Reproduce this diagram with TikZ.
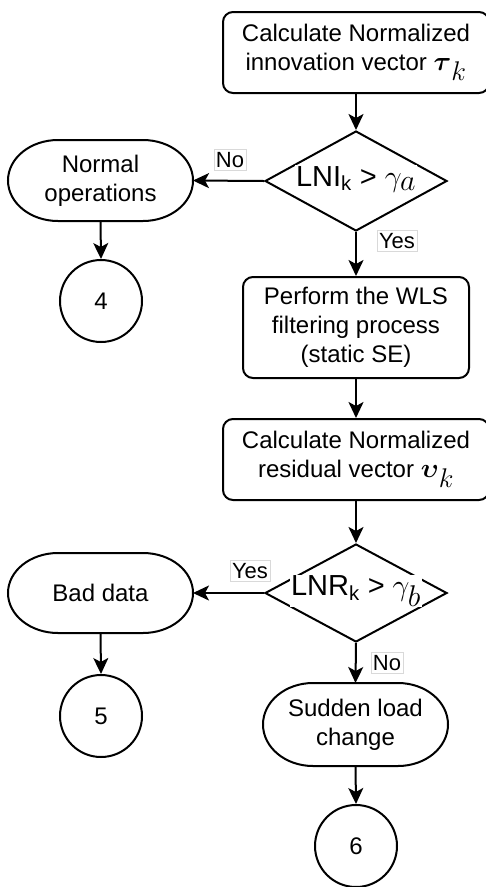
\RequirePackage{fix-cm}
\documentclass[tikz,border=0pt]{standalone}
\usepackage{amsmath}
\usepackage{fontspec}
\setmainfont{Liberation Sans}
\usetikzlibrary{shapes.geometric,arrows.meta,calc}
\newcommand\mystadium[3]{%
  \draw[line width=2pt] ($(#1.north east)+(-#2,0)$)
    arc[start angle=-90,end angle=90,x radius=#2,y radius=#3]
    -- ($(#1.south west)+(#2,0)$)
    arc[start angle=90,end angle=270,x radius=#2,y radius=#3] -- cycle;}
\newcommand\bigmath[2]{{\fontsize{#1}{#1}\selectfont$#2$}}
\begin{document}
\begin{tikzpicture}[x=1pt,y=-1pt,
  every node/.style={font=\fontsize{24}{29}\selectfont},
  proc/.style={draw, line width=2pt, rounded corners=10pt, align=center, inner sep=0pt, fill=white},
  term/.style={line width=2pt, outer sep=0pt, align=center, minimum width=185pt, minimum height=81pt, inner sep=0pt},
  conn/.style={draw, circle, line width=2pt, minimum size=82pt, inner sep=0pt},
  dec/.style={draw, diamond, line width=2pt, minimum width=182pt, minimum height=100pt, inner sep=0pt},
  dectext/.style={fill=white, inner sep=1pt, font=\fontsize{29}{34}\selectfont},
  lab/.style={draw=gray!30, line width=0.8pt, fill=white, inner xsep=2pt, inner ysep=3pt, font=\fontsize{22}{24}\selectfont},
  arr/.style={line width=2pt, -{Stealth[length=16pt,width=15pt,inset=4pt]}}
]
\useasboundingbox (0,0) rectangle (486,887);

\node[proc, minimum width=266pt, minimum height=81pt] (b1) at (356,52.5) {Calculate Normalized\\innovation vector \bigmath{27}{\boldsymbol{\tau}_{\textstyle k}}};
\node[dec] (d1) at (356,181) {};
\node[dectext] (d1t) at (356,179) {LNI\textsubscript{k} > \bigmath{30}{\gamma_{\textstyle a}}};
\node[term] (t1) at (100.5,180.5) {Normal\\operations};
\mystadium{t1}{50}{40.5}
\node[conn] (c4) at (101,301) {4};
\node[proc, minimum width=226pt, minimum height=101pt] (b2) at (356,327.5) {Perform the WLS\\filtering process\\(static SE)};
\node[proc, minimum width=266pt, minimum height=81pt] (b3) at (356,459.5) {Calculate Normalized\\residual vector \bigmath{27}{\boldsymbol{\upsilon}_{\textstyle k}}};
\node[dec, minimum height=98pt] (d2) at (356,593) {};
\node[dectext] (d2t) at (356,591) {LNR\textsubscript{k} > \bigmath{30}{\gamma_{\textstyle b}}};
\node[term, minimum height=80pt] (t2) at (100.5,593) {Bad data};
\mystadium{t2}{50}{40}
\node[conn] (c5) at (101,716) {5};
\node[term, minimum height=83pt] (t3) at (355.5,724.5) {Sudden load\\change};
\mystadium{t3}{50}{41.5}
\node[conn] (c6) at (356,846) {6};

\draw[arr] (b1.south) -- (d1.north);
\draw[arr] (d1.west) -- (t1.east);
\draw[arr] (t1.south) -- (c4.north);
\draw[arr] (d1.south) -- (b2.north);
\draw[arr] (b2.south) -- (b3.north);
\draw[arr] (b3.south) -- (d2.north);
\draw[arr] (d2.west) -- (t2.east);
\draw[arr] (t2.south) -- (c5.north);
\draw[arr] (d2.south) -- (t3.north);
\draw[arr] (t3.south) -- (c6.north);

\node[lab] (l1) at (230,160) {No};
\node[lab] (l2) at (397,241) {Yes};
\node[lab] (l3) at (250,571) {Yes};
\node[lab] (l4) at (387,663) {No};
\end{tikzpicture}
\end{document}
